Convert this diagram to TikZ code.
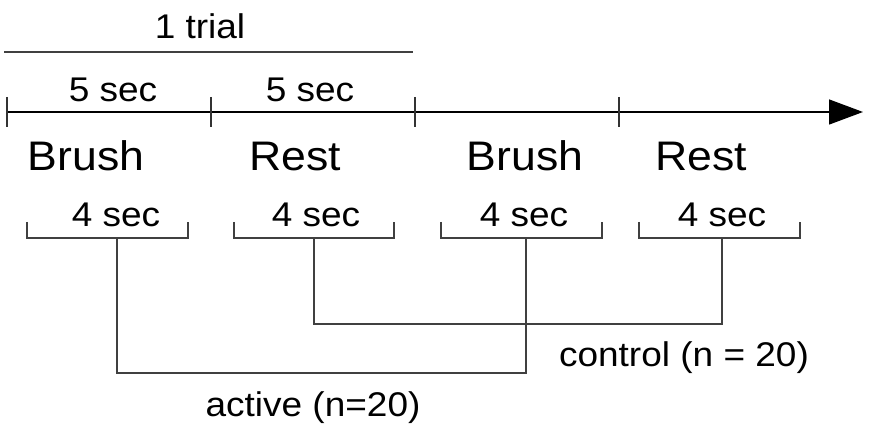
\documentclass[tikz,border=0pt]{standalone}
\usepackage{fontspec}
\setmainfont[FakeStretch=1.08]{Liberation Sans}
\usetikzlibrary{arrows.meta}

\tikzset{
  lbl/.style={anchor=base, inner sep=0pt, font=\fontsize{19.5}{22}\selectfont},
  biglbl/.style={anchor=base, inner sep=0pt, font=\fontsize{23.5}{27}\selectfont},
  thin/.style={line width=0.6pt, black!75},
  axis/.style={line width=0.8pt, -{Triangle[length=0.68cm, width=0.5cm]}}
}

\begin{document}
\begin{tikzpicture}[x=0.02cm, y=-0.02cm]
\useasboundingbox (0,0) rectangle (870,435);
% one trial
\node[lbl] (trial) at (200,39) {1 trial};
\coordinate (trialL) at (4,52);
\coordinate (trialR) at (413,52);
\draw[thin] (trialL) -- (trialR);
\node[lbl] (sec5a) at (113,102) {5 sec};
\node[lbl] (sec5b) at (310,102) {5 sec};
% time axis
\coordinate (t0) at (7,112);
\coordinate (tend) at (863,112);
\draw[axis] (t0) -- (tend);
\foreach \x in {7,211,415,619}
  \draw[line width=0.6pt, black!80] (\x,97) -- (\x,127);
\node[biglbl] (brush1) at (86,171) {Brush};
\node[biglbl] (rest1) at (295,171) {Rest};
\node[biglbl] (brush2) at (525,171) {Brush};
\node[biglbl] (rest2) at (701,171) {Rest};
% 4 sec windows
\node[lbl] (sec4a) at (116,227) {4 sec};
\node[lbl] (sec4b) at (316,227) {4 sec};
\node[lbl] (sec4c) at (524,227) {4 sec};
\node[lbl] (sec4d) at (722,227) {4 sec};
\foreach \l/\r in {27/188, 234/394, 441/602, 639/800}
  \draw[thin] (\l,222) |- (\r,238) -- (\r,222);
\coordinate (br1) at (117,238);
\coordinate (br2) at (314,238);
\coordinate (br3) at (526,238);
\coordinate (br4) at (722,238);
% groups
\coordinate (ctrl) at (0,324);
\coordinate (act) at (0,373);
\draw[thin] (br2) -- (br2 |- ctrl) -| (br4);
\draw[thin] (br1) -- (br1 |- act) -| (br3);
\node[lbl] (control) at (684,367) {control (n = 20)};
\node[lbl] (active) at (313,417) {active (n=20)};
\end{tikzpicture}
\end{document}
